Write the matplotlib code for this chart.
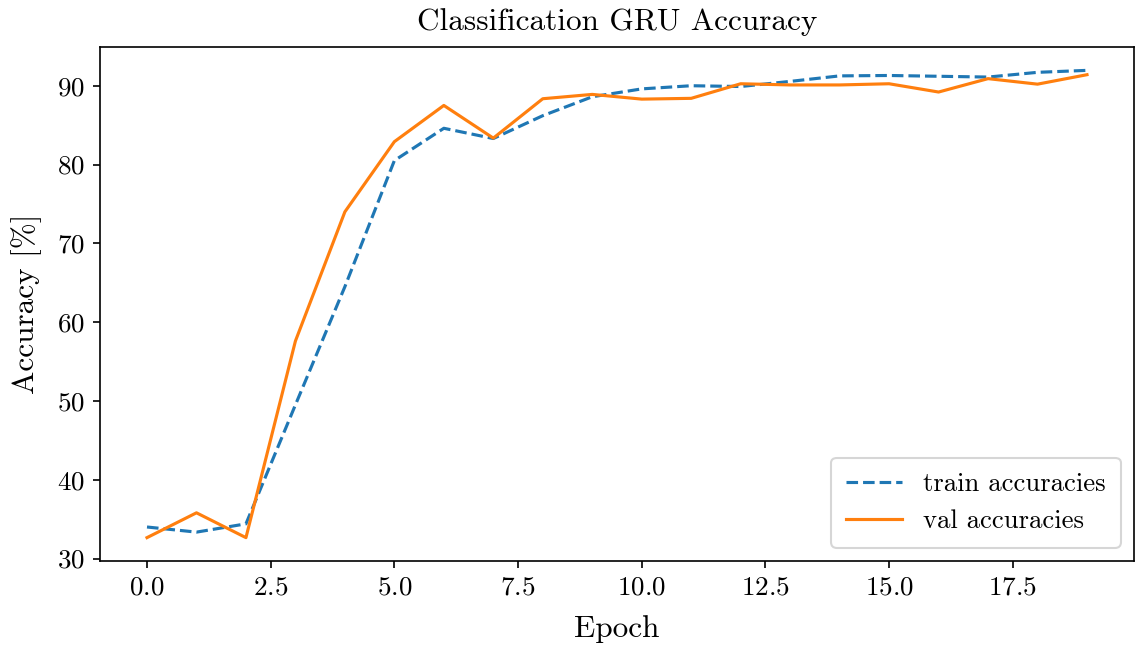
import matplotlib
matplotlib.use("Agg")
import matplotlib.pyplot as plt
import numpy as np

# accuracies per epoch
epochs = np.arange(20)
trainAcc = [34.0, 33.35, 34.4, 49.5, 64.5, 80.5, 84.6, 83.3, 86.2, 88.6,
            89.6, 90.0, 89.9, 90.55, 91.25, 91.3, 91.2, 91.1, 91.7, 91.95]
valAcc = [32.65, 35.8, 32.65, 57.6, 74.0, 82.9, 87.5, 83.35, 88.35, 88.9,
          88.3, 88.4, 90.25, 90.1, 90.1, 90.25, 89.2, 90.9, 90.2, 91.4]

plt.rcParams["font.family"] = "cmr10"
plt.rcParams["mathtext.fontset"] = "cm"
plt.rcParams["axes.formatter.use_mathtext"] = True

fig, ax = plt.subplots(figsize=(1135 / 150, 646 / 150), dpi=150)
fig.subplots_adjust(left=100 / 1135, right=1134 / 1135, top=1 - 47 / 646, bottom=1 - 561 / 646)

ax.plot(epochs, trainAcc, linestyle="--", color="tab:blue", label="train accuracies")
ax.plot(epochs, valAcc, color="tab:orange", label="val accuracies")

ax.set_title("Classification GRU Accuracy", fontsize=15, pad=8)
ax.set_xlabel("Epoch", fontsize=15, labelpad=7.5)
ax.set_ylabel("Accuracy [%]", fontsize=15, labelpad=7.5)
ax.tick_params(labelsize=13)
ax.legend(loc="lower right", fontsize=12.8, borderpad=0.55, handlelength=2.1)

fig.savefig("out.png", dpi=150)
